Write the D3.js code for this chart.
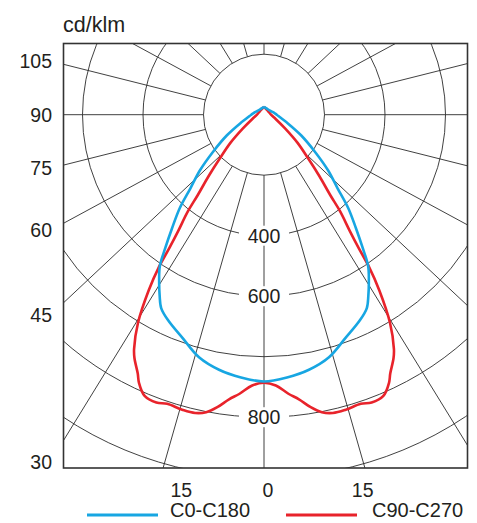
<!DOCTYPE html>
<html>
<head>
<meta charset="utf-8">
<script src="https://cdn.jsdelivr.net/npm/d3@7"></script>
<style>
  body { margin: 0; background: #fff; }
  text { font-family: "Liberation Sans", Arial, sans-serif; fill: #231f20; }
</style>
</head>
<body>
<svg id="chart" width="477" height="523"></svg>
<script>
// luminous intensity in cd/klm, gamma angle in degrees (0 = straight down)
var c0Angles = [0, 5, 10, 15, 20, 25, 28, 30, 32, 34.5, 36.5, 39, 42, 45, 49, 54, 61, 70, 80, 90, 97, 120, 150, 180];
var c0Values = [741, 736, 728, 715, 693, 675, 662, 645, 627, 604, 549, 483, 417, 344, 281, 208, 140, 84, 55, 42, 36, 25, 22, 26];

var c90Angles = [0, 2.5, 5, 7, 9, 11, 13, 15.5, 18.5, 20.5, 23, 25, 26, 28, 29, 31.2, 33.3, 34.6, 35.4, 36.4, 38.2, 39.5, 42, 45.3, 50, 57, 70, 88, 135, 165, 180];
var c90Values = [743, 748, 763, 774, 789, 801, 806, 806, 804, 808, 805, 789, 776, 756, 743, 702, 647, 606, 539, 479, 407, 344, 274, 205, 145, 83, 41, 24, 18, 21, 26];

var ringValues = [200, 400, 600, 700, 800, 900];
var ringLabels = [400, 600, 800];
var sideTicks = [105, 90, 75, 60, 45, 30];
var bottomTicks = [-15, 0, 15];
var seriesNames = ["C0-C180", "C90-C270"];
var seriesColors = ["#17a6e2", "#e8232b"];

var svg = d3.select("#chart");
var frame = { left: 63.5, top: 43.5, right: 467.5, bottom: 468 };
var cx = 264, cy = 114.7, ring = 60.5;
var skew = 1.066;   // spokes in the original are a touch wider than the rings
var gridColor = "#2b2b2b";
var rad = Math.PI / 180;

// radial scale: label spacing on the original is not even
var r = d3.scaleLinear().domain([0, 400, 600, 800]).range([0, 2 * ring, 3 * ring, 5 * ring]);

svg.append("clipPath").attr("id", "frameClip")
   .append("rect")
   .attr("x", frame.left).attr("y", frame.top)
   .attr("width", frame.right - frame.left)
   .attr("height", frame.bottom - frame.top);

var grid = svg.append("g").attr("clip-path", "url(#frameClip)");

// rings
grid.selectAll(".ring")
    .data(ringValues)
    .enter()
    .append("circle")
    .attr("class", "ring")
    .attr("cx", cx)
    .attr("cy", cy)
    .attr("r", function(d) { return r(d); })
    .style("fill", "none")
    .style("stroke", gridColor)
    .style("stroke-width", 0.9);

// spokes every 15 degrees, starting at the inner circle
var spokeDir = function(a) {
  var dx = skew * Math.sin(a * rad), dy = Math.cos(a * rad);
  var len = Math.sqrt(dx * dx + dy * dy);
  return [dx / len, dy / len];
};
grid.selectAll(".spoke")
    .data(d3.range(0, 360, 15))
    .enter()
    .append("line")
    .attr("class", "spoke")
    .attr("x1", function(d) { return cx + r(ringValues[0]) * spokeDir(d)[0]; })
    .attr("y1", function(d) { return cy + r(ringValues[0]) * spokeDir(d)[1]; })
    .attr("x2", function(d) { return cx + 700 * spokeDir(d)[0]; })
    .attr("y2", function(d) { return cy + 700 * spokeDir(d)[1]; })
    .style("stroke", gridColor)
    .style("stroke-width", 0.9);

// frame
svg.append("rect")
   .attr("x", frame.left).attr("y", frame.top)
   .attr("width", frame.right - frame.left)
   .attr("height", frame.bottom - frame.top)
   .style("fill", "none")
   .style("stroke", "#333")
   .style("stroke-width", 1.6);

// value labels on the 0 degree spoke
var valueLabel = svg.selectAll(".valueLabel")
    .data(ringLabels)
    .enter()
    .append("g")
    .attr("class", "valueLabel")
    .attr("transform", function(d) { return "translate(" + cx + "," + (cy + r(d)) + ")"; });
valueLabel.append("rect")
    .attr("x", -25).attr("y", -10)
    .attr("width", 50).attr("height", 20)
    .style("fill", "#fff");
valueLabel.append("text")
    .attr("text-anchor", "middle")
    .attr("y", 7)
    .style("font-size", "19.5px")
    .text(function(d) { return d; });

// angle labels on the left edge
svg.selectAll(".sideTick")
   .data(sideTicks)
   .enter()
   .append("text")
   .attr("class", "sideTick")
   .attr("x", 52)
   .attr("y", function(d) {
     if (d == 90) { return cy + 7; }
     return cy + (cx - frame.left) / Math.tan(d * rad) + 7;
   })
   .attr("text-anchor", "end")
   .style("font-size", "19.5px")
   .text(function(d) { return d; });

// angle labels under the frame
svg.selectAll(".bottomTick")
   .data(bottomTicks)
   .enter()
   .append("text")
   .attr("class", "bottomTick")
   .attr("x", function(d) {
     var x = cx + (frame.bottom - cy) * Math.tan(d * rad);
     return d < 0 ? x + 12 : x + 4;
   })
   .attr("y", 496.5)
   .attr("text-anchor", "middle")
   .style("font-size", "19.5px")
   .text(function(d) { return Math.abs(d); });

// unit
svg.append("text")
   .attr("x", 63)
   .attr("y", 32)
   .style("font-size", "21.5px")
   .text("cd/klm");

// curves: mirror each half-plane to both sides, apex at 180 on both ends
var fullCurve = function(angles, values) {
  var pts = [];
  for (var i = angles.length - 1; i > 0; i--) { pts.push([-angles[i], values[i]]); }
  for (var j = 0; j < angles.length; j++) { pts.push([angles[j], values[j]]); }
  return pts;
};
var radial = d3.lineRadial()
    .angle(function(d) { return Math.PI - d[0] * rad; })
    .radius(function(d) { return r(d[1]); })
    .curve(d3.curveCatmullRom.alpha(0.5));

var curves = svg.append("g").attr("transform", "translate(" + cx + "," + cy + ")");
curves.append("path")
      .datum(fullCurve(c90Angles, c90Values))
      .attr("d", radial)
      .style("fill", "none")
      .style("stroke", seriesColors[1])
      .style("stroke-width", 2.6)
      .style("stroke-linejoin", "round");
curves.append("path")
      .datum(fullCurve(c0Angles, c0Values))
      .attr("d", radial)
      .style("fill", "none")
      .style("stroke", seriesColors[0])
      .style("stroke-width", 2.6)
      .style("stroke-linejoin", "round");

// legend
var legendX = [87, 286];
var legend = svg.selectAll(".legend")
    .data(seriesNames)
    .enter()
    .append("g")
    .attr("class", "legend")
    .attr("transform", function(d, i) { return "translate(" + legendX[i] + ",515)"; });
legend.append("line")
      .attr("x1", 0).attr("x2", 71)
      .attr("y1", 0).attr("y2", 0)
      .style("stroke", function(d, i) { return seriesColors[i]; })
      .style("stroke-width", 3);
legend.append("text")
      .attr("x", function(d, i) { return i == 0 ? 83 : 86; })
      .attr("y", 1.5)
      .style("font-size", "20px")
      .text(function(d) { return d; });
</script>
</body>
</html>
